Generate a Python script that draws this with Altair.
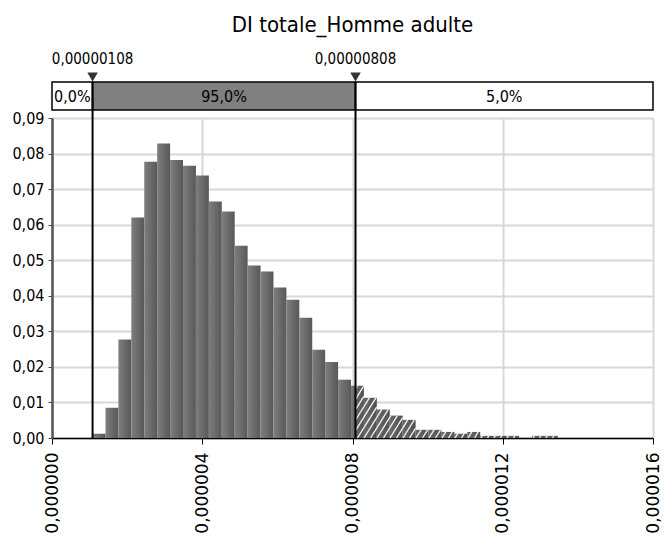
import altair as alt
import pandas as pd

# ---------------- data ----------------
title_text = "DI totale_Homme adulte"
bin_start = 1.08e-6
bin_width = 0.344e-6
probs = [0.0012, 0.0085, 0.0277, 0.0620, 0.0777, 0.0828, 0.0782, 0.0766, 0.0738,
         0.0665, 0.0637, 0.0541, 0.0485, 0.0468, 0.0423, 0.0389, 0.0338, 0.0248,
         0.0214, 0.0164, 0.0147, 0.0113, 0.0080, 0.0063, 0.0051, 0.0023, 0.0023,
         0.0017, 0.0012, 0.0017, 0.0006, 0.0006, 0.0006, 0.0, 0.0006, 0.0006]
p_low = 1.08e-6
p_high = 8.08e-6
marker_values = [p_low, p_high]
marker_labels = ["0,00000108", "0,00000808"]
region_labels = ["0,0%", "95,0%", "5,0%"]
region_fills = ["white", "#808080", "white"]
x_ticks = [0, 4e-6, 8e-6, 12e-6, 16e-6]
y_ticks = [0.00, 0.01, 0.02, 0.03, 0.04, 0.05, 0.06, 0.07, 0.08, 0.09]
x_max = 16e-6
y_max = 0.09

W, H = 601, 320
COND = "DejaVu Sans Condensed, Liberation Sans Narrow, sans-serif"
WIDE = "DejaVu Sans, Verdana, sans-serif"

# ---------------- tables ----------------
lefts = [bin_start + i * bin_width for i in range(len(probs))]
bins = pd.DataFrame({"left": lefts,
                     "right": [l + bin_width for l in lefts],
                     "prob": probs})
solid = bins[bins["left"] < p_high].copy()
solid["right"] = solid["right"].clip(upper=p_high)
solid = solid[solid["prob"] > 0]
hatch = bins[bins["right"] > p_high].copy()
hatch["left"] = hatch["left"].clip(lower=p_high)
hatch = hatch[hatch["prob"] > 0]

# diagonal hatch strokes, clipped to each hatched bar (pattern geometry)
spacing_px, run_per_rise = 6.5, 0.62
sx, sy = x_max / W, y_max / H
rows = []
for _, r in hatch.iterrows():
    L, R, h = r["left"] / sx, r["right"] / sx, r["prob"] / sy
    k0 = int((L - run_per_rise * h) // spacing_px) - 1
    k1 = int(R // spacing_px) + 1
    for k in range(k0, k1 + 1):
        c = k * spacing_px
        ya = max(0.0, (L - c) / run_per_rise)
        yb = min(h, (R - c) / run_per_rise)
        if yb - ya > 0.3:
            rows.append({"xa": (c + run_per_rise * ya) * sx, "xb": (c + run_per_rise * yb) * sx,
                         "ya": ya * sy, "yb": yb * sy})
strokes = pd.DataFrame(rows)

starts = [0, p_low, p_high]
ends = [p_low, p_high, x_max]
regions = pd.DataFrame({"start": starts, "end": ends,
                        "mid": [(s + e) / 2 for s, e in zip(starts, ends)],
                        "label": region_labels, "fill": region_fills})
markers = pd.DataFrame({"value": marker_values, "label": marker_labels})

xscale = alt.Scale(domain=[0, x_max], nice=False, zero=False)
yscale = alt.Scale(domain=[0, y_max], nice=False)

solid_grad = alt.Gradient(
    gradient="linear", x1=0, x2=1, y1=0, y2=0,
    stops=[alt.GradientStop(color="#7e7e7e", offset=0),
           alt.GradientStop(color="#585858", offset=1)])
hatch_grad = alt.Gradient(
    gradient="linear", x1=0, x2=1, y1=0, y2=0,
    stops=[alt.GradientStop(color="#6a6a6a", offset=0),
           alt.GradientStop(color="#505050", offset=1)])

x_axis = alt.Axis(values=x_ticks, labelAngle=270, labelFont=WIDE, labelFontSize=17,
                  labelColor="black", labelPadding=8, labelFlush=False, labelOverlap=False,
                  labelExpr="replace(format(datum.value, '.6f'), '.', ',')",
                  tickSize=6, tickColor="black", domainColor="black", domainWidth=1.5,
                  grid=True, gridColor="#d8d8d8", gridWidth=2, title=None)
y_axis = alt.Axis(values=y_ticks, tickCount=10, labelFont=COND, labelFontSize=16,
                  labelColor="black", labelPadding=4, labelOverlap=False, labelFlush=False,
                  labelExpr="replace(format(datum.value, '.2f'), '.', ',')",
                  tickSize=4, tickColor="#444", domainColor="#555", domainWidth=2.5,
                  grid=True, gridColor="#d8d8d8", gridWidth=2, title=None)


def X(field):
    return alt.X(field, scale=xscale, axis=x_axis)


def Y(field):
    return alt.Y(field, scale=yscale, axis=y_axis)


solid_bars = alt.Chart(solid).mark_rect(color=solid_grad).encode(
    x=X("left:Q"), x2="right:Q", y=Y("prob:Q"), y2=alt.datum(0),
)
hatch_bars = alt.Chart(hatch).mark_rect(color=hatch_grad).encode(
    x=X("left:Q"), x2="right:Q", y=Y("prob:Q"), y2=alt.datum(0),
)
hatch_lines = alt.Chart(strokes).mark_rule(color="#eeeeee", strokeWidth=1.4).encode(
    x=X("xa:Q"), x2="xb:Q", y=Y("ya:Q"), y2="yb:Q",
)
band = alt.Chart(regions).mark_rect(stroke="black", strokeWidth=1.5, clip=False).encode(
    x=X("start:Q"), x2="end:Q",
    y=alt.value(-36), y2=alt.value(-8),
    color=alt.Color("fill:N", scale=None),
)
band_text = alt.Chart(regions).mark_text(font=COND, fontSize=16, color="black",
                                         baseline="middle", align="center").encode(
    x=X("mid:Q"), y=alt.value(-21), text="label:N",
)
vlines = alt.Chart(markers).mark_rule(color="black", strokeWidth=2).encode(
    x=X("value:Q"), y=alt.value(-36), y2=alt.value(H),
)
tris = alt.Chart(markers).mark_point(shape="triangle-down", filled=True, size=110,
                                     color="#333", opacity=1).encode(
    x=X("value:Q"), y=alt.value(-41),
)
mlabels = alt.Chart(markers).mark_text(font=COND, fontSize=15, color="black",
                                       baseline="middle", align="center").encode(
    x=X("value:Q"), y=alt.value(-59), text="label:N",
)

chart = alt.layer(solid_bars, hatch_bars, hatch_lines, band, band_text, vlines, tris,
                  mlabels).properties(
    width=W, height=H,
    autosize=alt.AutoSizeParams(type="none"),
    padding={"left": 44, "top": 110, "right": 10, "bottom": 96},
    title=alt.TitleParams(title_text, font=COND, fontSize=22, fontWeight="normal",
                          anchor="middle", offset=15, color="black"),
).configure_view(fill="#f4f4f4", stroke=None).configure(background="white")

chart.save("out.html", embed_options={"renderer": "svg", "actions": False})
